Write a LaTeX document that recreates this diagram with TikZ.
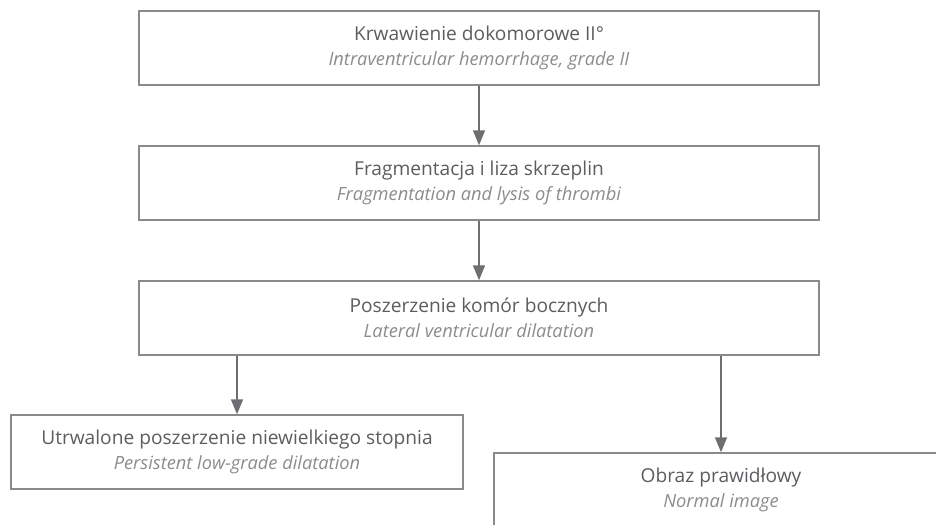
\documentclass[tikz,border=0pt]{standalone}
\usepackage{fontspec}
\setmainfont{Open Sans}
\usepackage{xcolor}
\usetikzlibrary{arrows.meta}
\tikzset{>={Triangle[width=0.24cm,length=0.3cm]}}
\definecolor{mydark}{HTML}{5C5D60}
\definecolor{mylight}{HTML}{8C8C8F}
\definecolor{myframe}{HTML}{8A8A8A}
\definecolor{myarrow}{HTML}{6D6E71}
\newcommand{\eng}[1]{{\fontsize{10.4}{14.2}\itshape\color{mylight}#1}}

\begin{document}
\begin{tikzpicture}[
    x=0.02cm,y=-0.02cm,
    stage/.style={draw=myframe,line width=0.85pt,fill=white,align=center,
      minimum width=13.6cm,minimum height=1.48cm,inner sep=0pt,
      font=\fontsize{10.9}{14.2}\selectfont,text=mydark},
    flow/.style={->,myarrow,line width=0.9pt}
  ]
  
  \def\W{936}
  \def\H{524}
  \def\xmid{479}
  
  % FRAME
  \useasboundingbox (0,0) rectangle (\W,\H);
  \clip (0,0) rectangle (\W,\H);
  
  % BOXES
  \node[stage] (ivh) at (\xmid,48)
    {Krwawienie dokomorowe II°\\ \eng{Intraventricular hemorrhage, grade II}};
  \node[stage] (lysis) at (\xmid,183)
    {Fragmentacja i liza skrzeplin\\ \eng{Fragmentation and lysis of thrombi}};
  \node[stage] (dilat) at (\xmid,318)
    {Poszerzenie komór bocznych\\ \eng{Lateral ventricular dilatation}};
  \node[stage,minimum width=9.04cm] (persist) at (237,452)
    {Utrwalone poszerzenie niewielkiego stopnia\\ \eng{Persistent low-grade dilatation}};
  \node[stage,minimum width=9.08cm] (normal) at (721,490)
    {Obraz prawidłowy\\ \eng{Normal image}};
  
  % ARROWS
  \draw[flow] (ivh) -- (lysis);
  \draw[flow] (lysis) -- (dilat);
  \draw[flow] (persist.north |- dilat.south) -- (persist.north);
  \draw[flow] (normal.north |- dilat.south) -- (normal.north);
  
\end{tikzpicture}
\end{document}
